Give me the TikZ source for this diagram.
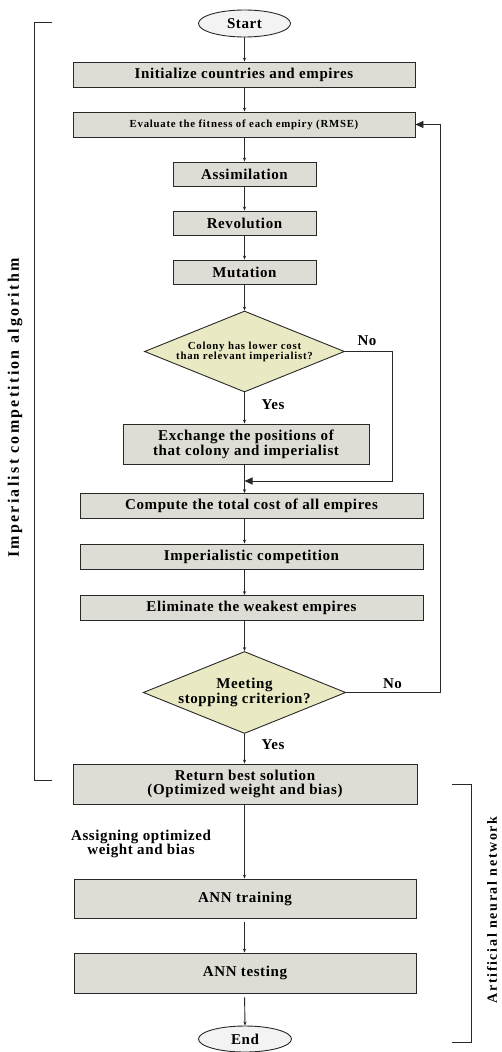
\documentclass[tikz,border=0pt]{standalone}
\usepackage{fontspec}
\setmainfont{Liberation Serif}
\newfontfamily\ffmain{Liberation Serif}[LetterSpace=4]
\newfontfamily\ffsmall{Liberation Serif}[LetterSpace=7]
\newfontfamily\ffleft{Liberation Serif}[LetterSpace=14]
\newfontfamily\ffright{Liberation Serif}[LetterSpace=12]
\usetikzlibrary{shapes.geometric,arrows.meta}
\definecolor{boxfill}{RGB}{221,220,213}
\definecolor{decfill}{RGB}{233,233,196}
\definecolor{ellfill}{RGB}{243,243,243}
\definecolor{linec}{RGB}{40,40,40}
\tikzset{
  base/.style={draw=linec, line width=0.9pt, align=center, text=black},
  bigtxt/.style={font=\ffmain\bfseries\fontsize{15}{13.5}\selectfont},
  smalltxt/.style={font=\ffsmall\bfseries\fontsize{10.8}{10}\selectfont},
  procbox/.style={base, bigtxt, fill=boxfill, rectangle, inner sep=1pt},
  decbox/.style={base, fill=decfill, diamond, aspect=2.47, inner sep=0pt, minimum width=200pt, minimum height=81pt},
  term/.style={base, bigtxt, fill=ellfill, ellipse, inner sep=0pt},
  conn/.style={draw=linec, line width=0.9pt, -{Stealth[length=4pt,width=3.2pt]}},
  loopconn/.style={draw=linec, line width=0.9pt, -{Triangle[length=8pt,width=7pt]}},
  plain/.style={draw=linec, line width=0.9pt},
  lbl/.style={bigtxt, inner sep=0pt, align=center},
  sidelbl/.style={inner sep=0pt, rotate=90}
}
\begin{document}
\begin{tikzpicture}[x=1pt,y=-1pt]
\useasboundingbox (0,0) rectangle (501,1052);

\node[term, minimum width=92pt, minimum height=27pt] (start) at (244.5,23.5) {Start};
\node[procbox, minimum width=342pt, minimum height=25pt] (init) at (244,74.5) {Initialize countries and empires};
\node[procbox, smalltxt, minimum width=342pt, minimum height=25pt] (eval) at (244,124.5) {Evaluate the fitness of each empiry (RMSE)};
\node[procbox, minimum width=143pt, minimum height=24pt] (assim) at (244.5,174) {Assimilation};
\node[procbox, minimum width=143pt, minimum height=24pt] (revol) at (244.5,223) {Revolution};
\node[procbox, minimum width=143pt, minimum height=24pt] (mutat) at (244.5,272) {Mutation};
\node[decbox, smalltxt] (dec1) at (244.5,351.5) {Colony has lower cost\\than relevant imperialist?};
\node[procbox, minimum width=246pt, minimum height=40pt] (exch) at (246,444) {Exchange the positions of\\that colony and imperialist};
\node[procbox, minimum width=343pt, minimum height=25pt] (comp) at (251.5,506) {Compute the total cost of all empires};
\node[procbox, minimum width=343pt, minimum height=25pt] (imper) at (251.5,556.5) {Imperialistic competition};
\node[procbox, minimum width=343pt, minimum height=25pt] (elim) at (251.5,608) {Eliminate the weakest empires};
\node[decbox, bigtxt] (dec2) at (244.5,692.5) {Meeting\\stopping criterion?};
\node[procbox, minimum width=344pt, minimum height=40pt] (ret) at (245,784) {Return best solution\\(Optimized weight and bias)};
\node[procbox, minimum width=342pt, minimum height=39pt] (train) at (245,898.5) {ANN training};
\node[procbox, minimum width=342pt, minimum height=40pt] (test) at (245,973) {ANN testing};
\node[term, minimum width=93pt, minimum height=26pt] (end) at (245,1039) {End};

\node[lbl] (no1) at (367,340.5) {No};
\node[lbl] (yes1) at (273,405) {Yes};
\node[lbl] (no2) at (392.5,683.5) {No};
\node[lbl] (yes2) at (273,745) {Yes};
\node[lbl] (assign) at (141,844) {Assigning optimized\\weight and bias};

\node[sidelbl, font=\ffleft\bfseries\fontsize{16}{16}\selectfont] (leftlbl) at (15,408) {Imperialist competition algorithm};
\node[sidelbl, font=\ffright\bfseries\fontsize{14}{14}\selectfont] (rightlbl) at (492,910) {Artificial neural network};

% main connectors
\draw[conn] (start.south) -- (start.south |- init.north);
\draw[conn] (init.south -| start) -- (start |- eval.north);
\draw[conn] (eval.south -| start) -- (assim.north);
\draw[conn] (assim) -- (revol);
\draw[conn] (revol) -- (mutat);
\draw[conn] (mutat) -- (dec1);
\draw[conn] (dec1.south) -- (dec1.south |- exch.north);
\draw[conn] (exch.south -| dec1) -- (dec1 |- comp.north);
\draw[conn] (comp.south -| dec1) -- (dec1 |- imper.north);
\draw[conn] (imper.south -| dec1) -- (dec1 |- elim.north);
\draw[conn] (elim.south -| dec1) -- (dec2.north);
\draw[conn] (dec2.south) -- (dec2.south |- ret.north);
\draw[conn] (ret.south -| dec2) -- (dec2 |- train.north);
\draw[conn, shorten <=4pt] (train.south -| dec2) -- (dec2 |- test.north);
\draw[conn, shorten <=4pt] (test.south -| dec2) -- (end.north);

% loop-backs
\coordinate (n1) at (392,351.5);
\coordinate (n2) at (392,481);
\coordinate (m1) at (244.5,481);
\draw[loopconn] (dec1.east) -- (n1) -- (n2) -- (m1);
\coordinate (n3) at (440,692.5);
\coordinate (n4) at (440,124.5);
\draw[loopconn] (dec2.east) -- (n3) -- (n4) -- (eval.east);

% brackets
\coordinate (lb1) at (52,22);
\coordinate (lb2) at (34,22);
\coordinate (lb3) at (34,780);
\coordinate (lb4) at (52,780);
\draw[plain] (lb1) -- (lb2) -- (lb3) -- (lb4);
\coordinate (rb1) at (452,784);
\coordinate (rb2) at (471,784);
\coordinate (rb3) at (471,1042);
\coordinate (rb4) at (452,1042);
\draw[plain] (rb1) -- (rb2) -- (rb3) -- (rb4);
\end{tikzpicture}
\end{document}
